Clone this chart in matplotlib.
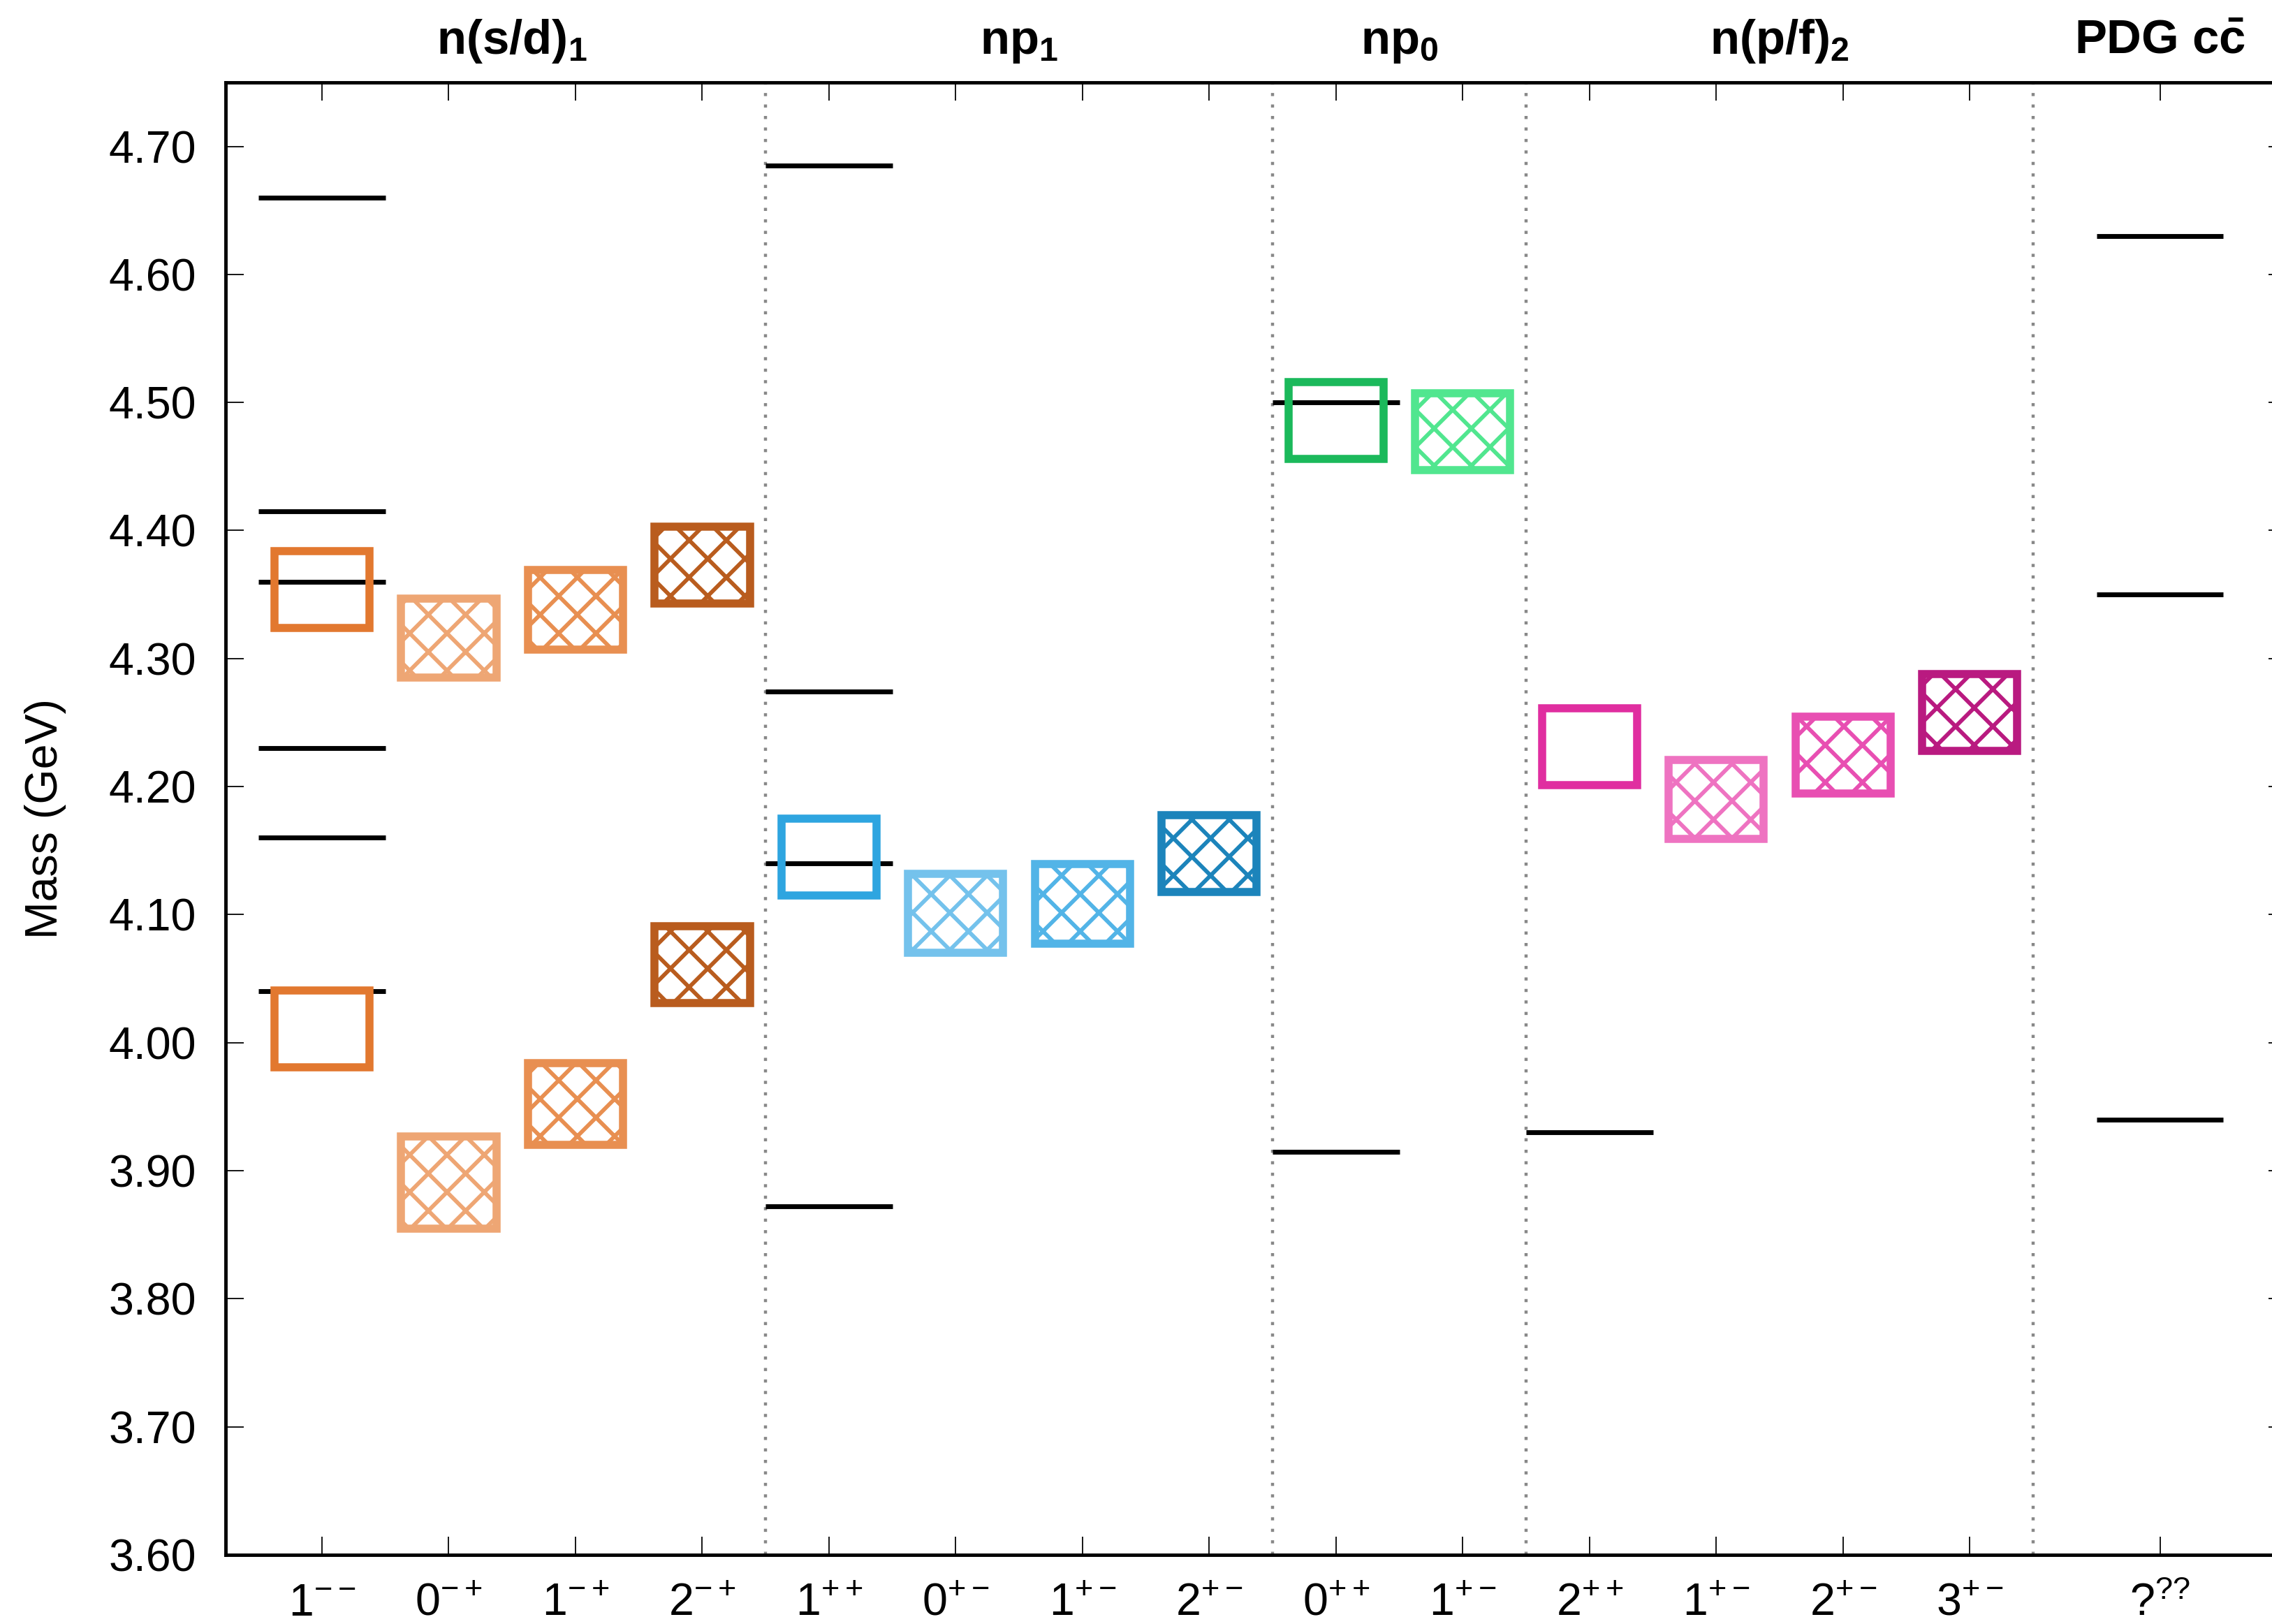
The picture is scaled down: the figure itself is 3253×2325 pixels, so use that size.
import matplotlib
matplotlib.use("Agg")
import matplotlib.pyplot as plt
import numpy as np

plt.rcParams['font.family'] = ['Liberation Sans', 'DejaVu Sans']
plt.rcParams['mathtext.fontset'] = 'custom'
plt.rcParams['mathtext.rm'] = 'Liberation Sans'
plt.rcParams['mathtext.it'] = 'Liberation Sans:italic'
plt.rcParams['mathtext.bf'] = 'Liberation Sans:bold'
plt.rcParams['hatch.linewidth'] = 1.3

# J^PC channels along the x axis
channel_x = [1, 2, 3, 4, 5, 6, 7, 8, 9, 10, 11, 12, 13, 14, 15.5]
channel_labels = [r'$\mathregular{1^{--}}$', r'$\mathregular{0^{-+}}$', r'$\mathregular{1^{-+}}$',
                  r'$\mathregular{2^{-+}}$', r'$\mathregular{1^{++}}$', r'$\mathregular{0^{+-}}$',
                  r'$\mathregular{1^{+-}}$', r'$\mathregular{2^{+-}}$', r'$\mathregular{0^{++}}$',
                  r'$\mathregular{1^{+-}}$', r'$\mathregular{2^{++}}$', r'$\mathregular{1^{+-}}$',
                  r'$\mathregular{2^{+-}}$', r'$\mathregular{3^{+-}}$', r'$\mathregular{?^{??}}$']

# supermultiplet headers
group_x = [2.5, 6.5, 9.5, 12.5, 15.5]
group_names = [r'$\mathbf{n(s/d)_1}$', r'$\mathbf{np_1}$', r'$\mathbf{np_0}$',
               r'$\mathbf{n(p/f)_2}$', r'$\mathbf{PDG\ c\bar{c}}$']
group_edges = [4.5, 8.5, 10.5, 14.5]

# lattice masses (GeV) and uncertainties
lattice_x = [1, 2, 3, 4, 1, 2, 3, 4, 5, 6, 7, 8, 9, 10, 11, 12, 13, 14]
lattice_mass = [4.0105, 3.891, 3.952, 4.061, 4.354, 4.316, 4.338, 4.373,
                4.145, 4.101, 4.1085, 4.1475, 4.486, 4.477, 4.231, 4.190, 4.2245, 4.258]
lattice_err = [0.030, 0.036, 0.032, 0.030, 0.030, 0.031, 0.031, 0.030,
               0.030, 0.031, 0.031, 0.030, 0.030, 0.030, 0.030, 0.031, 0.030, 0.030]
lattice_color = ['#e2782f', '#eea674', '#e88f51', '#b95c1e',
                 '#e2782f', '#eea674', '#e88f51', '#b95c1e',
                 '#2ea5e0', '#74c2ec', '#52b4e7', '#1c84bb',
                 '#1bb95b', '#51e68f',
                 '#e02ea0', '#ee73c1', '#e84fb2', '#b91a80']
lattice_hatched = [False, True, True, True, False, True, True, True,
                   False, True, True, True, False, True, False, True, True, True]

# experimental states
exp_x = [1, 1, 1, 1, 1, 1, 5, 5, 5, 5, 9, 9, 11, 15.5, 15.5, 15.5]
exp_mass = [4.040, 4.160, 4.230, 4.360, 4.415, 4.660,
            3.872, 4.140, 4.274, 4.685, 3.915, 4.500, 3.930,
            3.940, 4.350, 4.630]

dpi = 320
fig = plt.figure(figsize=(3253 / dpi, 2325 / dpi), dpi=dpi)
ax = fig.add_axes([0.0993, 0.0426, 0.9072, 0.9067])

# dotted separators between multiplets
for xe in group_edges:
    ax.axvline(xe, color='#888888', lw=1.0, linestyle=(0, (1, 2.7)), zorder=1)

exp_x = np.array(exp_x)
ax.hlines(exp_mass, exp_x - 0.5, exp_x + 0.5, color='black', lw=1.55, zorder=2)

for x, m, e, c, h in zip(lattice_x, lattice_mass, lattice_err, lattice_color, lattice_hatched):
    ax.bar(x, 2 * e, bottom=m - e, width=0.75, fill=False, edgecolor=c,
           linewidth=2.6, hatch='xx' if h else None, zorder=3)

ax.set_xlim(0.24, 16.5)
ax.set_ylim(3.6, 4.75)
ax.set_xticks(channel_x, channel_labels)
ax.set_yticks(np.arange(3.6, 4.71, 0.1))
ax.yaxis.set_major_formatter(matplotlib.ticker.FormatStrFormatter('%.2f'))
ax.tick_params(direction='in', length=5.9, width=0.4, labelsize=14.5,
               top=True, right=True, pad=9.5)
ax.tick_params(axis='x', pad=9.0)
for sp in ax.spines.values():
    sp.set_linewidth(1.1)

ax.set_ylabel('Mass (GeV)', fontsize=14.5)
ax.yaxis.set_label_coords(-0.0874, 0.5)
ax.yaxis.label.set_verticalalignment('center')

trans = matplotlib.transforms.blended_transform_factory(ax.transData, ax.transAxes)
for gx, name in zip(group_x, group_names):
    ax.text(gx, 1.0195, name, transform=trans, ha='center', va='baseline', fontsize=15.5)

fig.savefig('out.png', dpi=dpi, facecolor='white')
